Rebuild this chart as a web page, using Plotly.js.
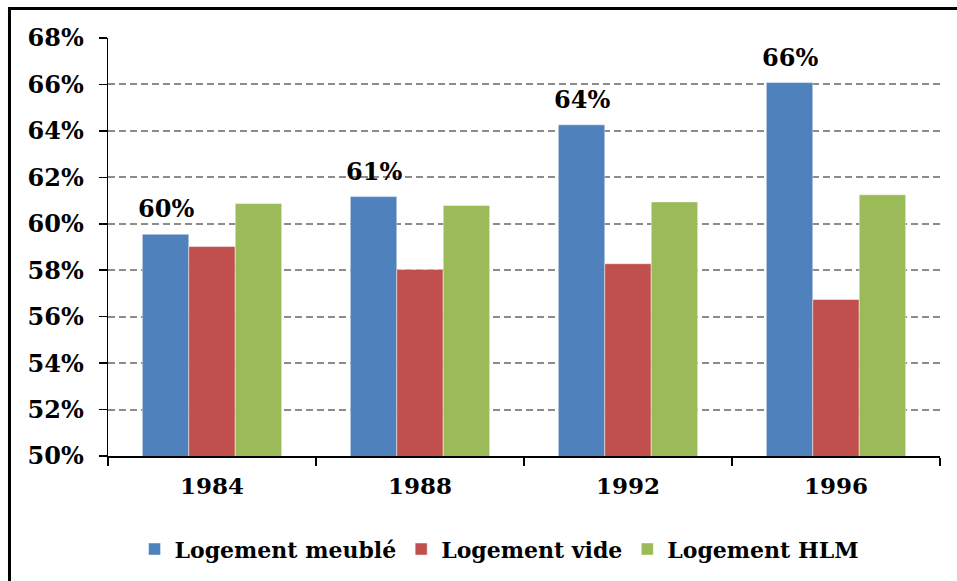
<!DOCTYPE html>
<html>
<head>
<meta charset="utf-8">
<script src="https://cdn.plot.ly/plotly-3.0.1.min.js"></script>
<style>html,body{margin:0;padding:0;background:#fff;}#chart{width:957px;height:581px;}</style>
</head>
<body>
<div id="chart"></div>
<script>
var years = ['1984', '1988', '1992', '1996'];
var meuble = [0.5955, 0.6117, 0.6426, 0.6608];
var vide = [0.5902, 0.5803, 0.5828, 0.5674];
var hlm = [0.6087, 0.6079, 0.6094, 0.6125];
var seriesNames = ['Logement meublé', 'Logement vide', 'Logement HLM'];
var yTicks = [0.50, 0.52, 0.54, 0.56, 0.58, 0.60, 0.62, 0.64, 0.66, 0.68];

var FONT = 'DejaVu Serif, Liberation Serif, serif';
var BARGAP = 0.33;
var lineStyle = {color: 'rgba(255,255,255,0.45)', width: 1};
function f(size) { return {family: FONT, size: size, color: '#000', weight: 'bold'}; }

var traces = [
  {type: 'bar', name: seriesNames[0], x: years, y: meuble, marker: {color: '#4F81BD', line: lineStyle}},
  {type: 'bar', name: seriesNames[1], x: years, y: vide, marker: {color: '#C0504D', line: lineStyle}},
  {type: 'bar', name: seriesNames[2], x: years, y: hlm, marker: {color: '#9BBB59', line: lineStyle}}
];

// value labels above the blue bars (first bar of each group)
var barW = (1 - BARGAP) / 3;
var annotations = meuble.map(function (v, i) {
  return {x: i - barW, y: v, xref: 'x', yref: 'y', text: Math.round(v * 100) + '%',
          showarrow: false, yanchor: 'bottom', xanchor: 'center', yshift: 9, font: f(24)};
});

var layout = {
  width: 957, height: 581,
  margin: {l: 108, r: 17, t: 38, b: 124},
  paper_bgcolor: '#fff', plot_bgcolor: '#fff',
  font: f(22),
  barmode: 'group', bargap: BARGAP, bargroupgap: 0,
  showlegend: true,
  legend: {orientation: 'h', x: 0.47, xanchor: 'center', y: -0.17, yanchor: 'top',
           font: f(22), itemwidth: 30, traceorder: 'normal'},
  xaxis: {type: 'category', showline: true, linecolor: '#000', linewidth: 1.5,
          ticks: 'outside', tickson: 'boundaries', ticklen: 8, tickcolor: '#000', tickwidth: 1.5,
          showgrid: false, ticklabelstandoff: 9, tickfont: f(23)},
  yaxis: {range: [0.5, 0.68], tickvals: yTicks, tickformat: '.0%',
          showline: true, linecolor: '#000', linewidth: 1.5,
          ticks: 'outside', ticklen: 8, tickcolor: '#000', tickwidth: 1.5,
          showgrid: true, gridcolor: '#8C8C8C', gridwidth: 2, griddash: '7px,4px',
          zeroline: false, ticklabelstandoff: 10, tickfont: f(24)},
  annotations: annotations,
  shapes: [
    {type: 'rect', xref: 'paper', yref: 'paper', x0: -0.1184, x1: 1.1, y0: -0.5, y1: 1.0704,
     line: {color: '#000', width: 3}, fillcolor: 'rgba(0,0,0,0)', layer: 'above'}
  ]
};

Plotly.newPlot('chart', traces, layout, {displayModeBar: false, staticPlot: true});
</script>
</body>
</html>
